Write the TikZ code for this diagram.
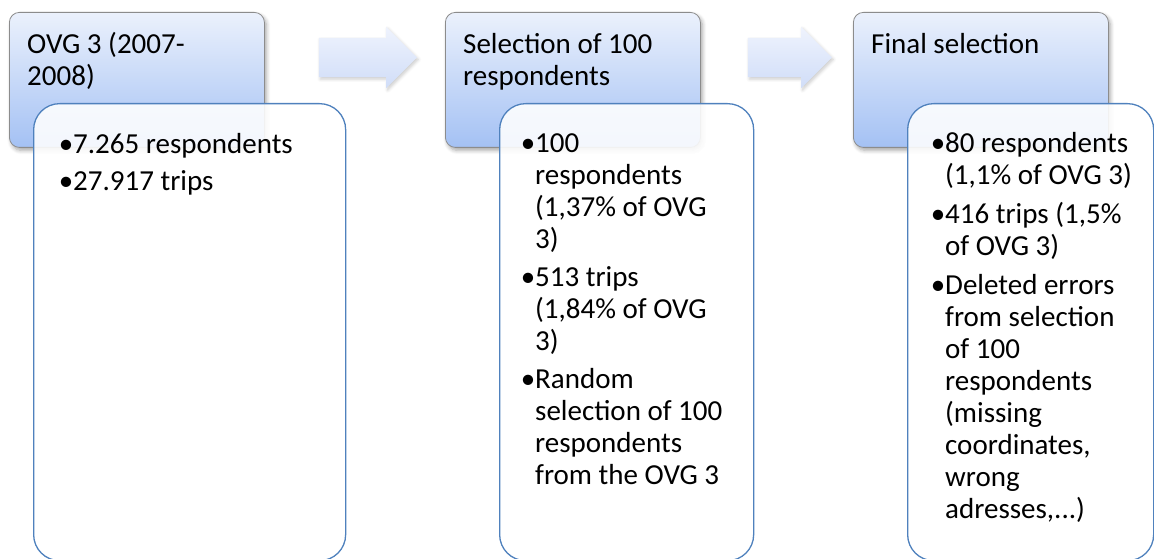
\documentclass[tikz,border=0pt]{standalone}
\usepackage{fontspec}
\setmainfont{Carlito}
\usetikzlibrary{shapes.arrows,shadows.blur}
\definecolor{headtop}{RGB}{235,241,252}
\definecolor{headbot}{RGB}{164,193,244}
\definecolor{boxline}{RGB}{79,129,189}
\definecolor{arrowtop}{RGB}{239,243,253}
\definecolor{arrowbot}{RGB}{208,221,248}
\tikzstyle{stage head}=[rectangle,rounded corners=10pt,draw=black!45,line width=0.8pt,top color=headtop,bottom color=headbot,minimum width=255pt,minimum height=135pt,anchor=north west,inner sep=0pt,blur shadow={shadow blur steps=6,shadow blur radius=4pt,shadow xshift=2pt,shadow yshift=-3pt,shadow opacity=35}]
\tikzstyle{stage body}=[rectangle,rounded corners=26pt,draw=boxline,line width=1.3pt,fill=white,fill opacity=0.88,minimum height=457pt,anchor=north west,inner sep=0pt]
\tikzstyle{flow arrow}=[single arrow,single arrow head extend=11pt,inner xsep=0pt,inner ysep=19.5pt,top color=arrowtop,bottom color=arrowbot,draw=none,blur shadow={shadow blur steps=5,shadow blur radius=3pt,shadow xshift=1.5pt,shadow yshift=-2pt,shadow opacity=20}]
\tikzstyle{boxtext}=[anchor=north west,inner sep=0pt,align=left,font=\fontsize{29}{32}\selectfont]
\newcommand{\bul}{\llap{\textbullet}}

\begin{document}
\begin{tikzpicture}[x=1pt,y=-1pt]
    \useasboundingbox (0,0) rectangle (1154,559);
    % draw the stage heads
    \foreach \pos/\name in {{(9,12)/h1}, {(445,12)/h2}, {(853,12)/h3}}
        \node[stage head] (\name) at \pos {};
    % arrows between the heads
    \foreach \pos/\name/\arrlen in {{(358,57.5)/a1/98}, {(780,57.5)/a2/84}}
        \node[flow arrow,minimum height=\arrlen pt] (\name) at \pos {};
    % draw the stage bodies
    \foreach \pos/\name/\boxwd in {{(33,103)/b1/312}, {(499,103)/b2/254}, {(907,103)/b3/246}}
        \node[stage body,minimum width=\boxwd pt] (\name) at \pos {};

    % texts of the heads
    \node[boxtext] (t1) at (27,30.6) {\strut OVG 3 (2007-\\2008)};
    \node[boxtext] (t2) at (463,30.6) {\strut Selection of 100\\respondents};
    \node[boxtext] (t3) at (871,30.6) {\strut Final selection};
    % texts of the bodies
    \node[boxtext] (c1) at (73,130.6) {\strut\bul 7.265 respondents\\[5pt]\bul 27.917 trips};
    \node[boxtext] (c2) at (535,129.6) {\strut\bul 100\\respondents\\(1,37\% of OVG\\3)\\[6pt]%
        \bul 513 trips\\(1,84\% of OVG\\3)\\[6pt]%
        \bul Random\\selection of 100\\respondents\\from the OVG 3};
    \node[boxtext] (c3) at (945,129.6) {\strut\bul 80 respondents\\(1,1\% of OVG 3)\\[7pt]%
        \bul 416 trips (1,5\%\\of OVG 3)\\[7pt]%
        \bul Deleted errors\\from selection\\of 100\\respondents\\(missing\\coordinates,\\wrong\\adresses,...)};
\end{tikzpicture}
\end{document}
